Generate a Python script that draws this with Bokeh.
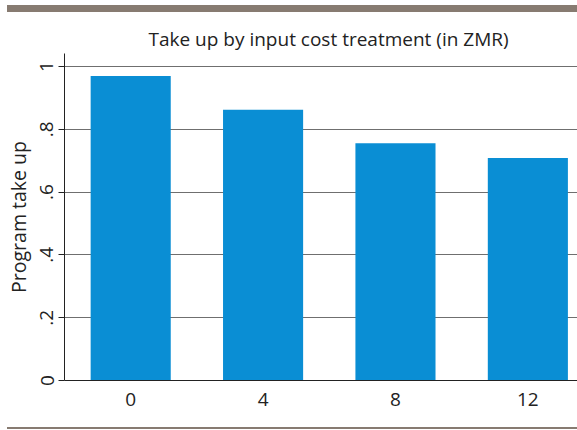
from bokeh.plotting import figure
from bokeh.layouts import column
from bokeh.models import Range1d, FixedTicker, Title, ColumnDataSource, Div
from bokeh.embed import file_html
from bokeh.resources import INLINE

# Data
categories = [0, 4, 8, 12]
take_up = [0.970, 0.862, 0.756, 0.709]
xtick_labels = ["0", "4", "8", "12"]
yticks = [0, 0.2, 0.4, 0.6, 0.8, 1.0]
ytick_labels = ["0", ".2", ".4", ".6", ".8", "1"]

FONT = "Open Sans"
BAR = "#0a8ed4"
RULE = "#877b71"

W = 577

top = Div(text="", width=570, height=7, margin=(5, 0, 0, 7),
          styles={"background-color": RULE})

p = figure(width=W, height=415, output_backend="svg", toolbar_location=None,
           x_range=Range1d(-2, 13.5), y_range=Range1d(0, 1.0415),
           min_border_left=64, min_border_right=0, min_border_top=41, min_border_bottom=47,
           margin=(0, 0, 0, 0))
p.title = None
t = Title(text="Take up by input cost treatment (in ZMR)", align="left",
          text_font=FONT, text_font_size="19px", text_font_style="normal",
          text_color="#222222", offset=84, standoff=4)
p.add_layout(t, "above")
p.outline_line_color = None

src = ColumnDataSource(dict(x=categories, top=take_up))
p.vbar(x="x", top="top", width=2.42, bottom=0, source=src,
       fill_color=BAR, line_color=None)

p.xgrid.visible = False
p.ygrid.ticker = FixedTicker(ticks=yticks)
p.ygrid.grid_line_color = "#6f6f6f"
p.ygrid.grid_line_width = 1
p.ygrid.level = "underlay"

p.xaxis.ticker = FixedTicker(ticks=categories)
p.xaxis.major_label_overrides = dict(zip(categories, xtick_labels))
p.xaxis.major_tick_line_color = None
p.xaxis.minor_tick_line_color = None
p.xaxis.axis_line_color = "#222222"
p.xaxis.major_label_text_font = FONT
p.xaxis.major_label_text_font_size = "19px"
p.xaxis.major_label_text_color = "#222222"
p.xaxis.major_label_standoff = 6

p.yaxis.ticker = FixedTicker(ticks=yticks)
p.yaxis.major_label_overrides = dict(zip(yticks, ytick_labels))
p.yaxis.major_label_orientation = "vertical"
p.yaxis.major_tick_out = 6
p.yaxis.major_tick_in = 0
p.yaxis.minor_tick_line_color = None
p.yaxis.axis_line_color = "#222222"
p.yaxis.major_tick_line_color = "#222222"
p.yaxis.major_label_text_font = FONT
p.yaxis.major_label_text_font_size = "19px"
p.yaxis.major_label_text_color = "#222222"
p.yaxis.major_label_standoff = 5
p.yaxis.axis_label = "Program take up"
p.yaxis.axis_label_text_font = FONT
p.yaxis.axis_label_text_font_size = "19.5px"
p.yaxis.axis_label_text_font_style = "normal"
p.yaxis.axis_label_text_color = "#222222"
p.yaxis.axis_label_standoff = 6

bot = Div(text="", width=570, height=2, margin=(0, 0, 0, 7),
          styles={"background-color": RULE})

layout = column(top, p, bot, spacing=0)
open("out.html", "w").write(file_html(layout, INLINE))
